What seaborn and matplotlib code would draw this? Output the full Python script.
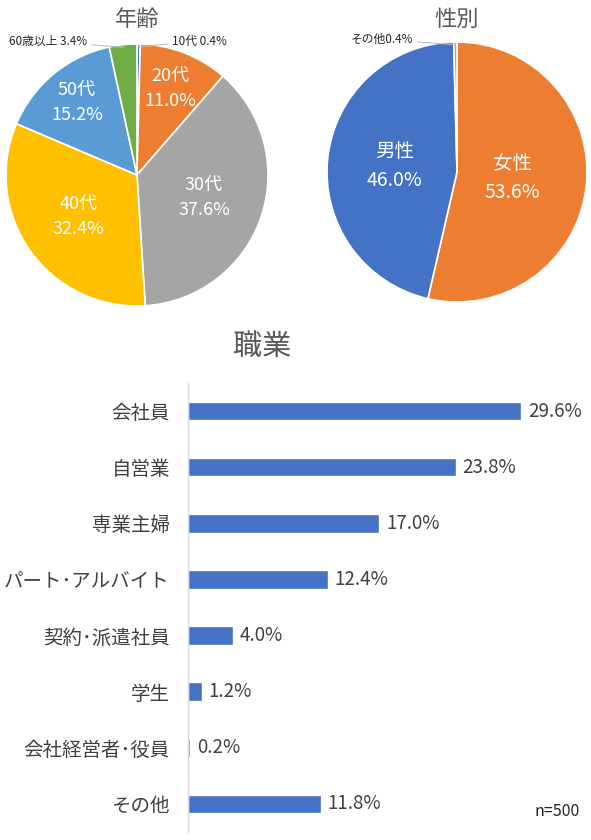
import numpy as np
import pandas as pd
import matplotlib
matplotlib.use("Agg")
import matplotlib.pyplot as plt
import seaborn as sns

# ---- data ----
age_labels = ["10代", "20代", "30代", "40代", "50代", "60歳以上"]
age_values = [0.4, 11.0, 37.6, 32.4, 15.2, 3.4]
age_colors = ["#4472C4", "#ED7D31", "#A5A5A5", "#FFC000", "#5B9BD5", "#70AD47"]

gender_labels = ["女性", "男性", "その他"]
gender_values = [53.6, 46.0, 0.4]
gender_colors = ["#ED7D31", "#4472C4", "#A5A5A5"]

job_labels = ["会社員", "自営業", "専業主婦", "パート･アルバイト", "契約･派遣社員",
              "学生", "会社経営者･役員", "その他"]
job_values = [29.6, 23.8, 17.0, 12.4, 4.0, 1.2, 0.2, 11.8]

sns.set_theme(style="white")
plt.rcParams['font.family'] = ['Noto Sans CJK JP', 'DejaVu Sans']

W, H = 591, 840
fig = plt.figure(figsize=(W / 100, H / 100), dpi=100)
fig.patch.set_facecolor("white")

TITLE_C = "#595959"
TEXT_C = "#404040"


def px_axes(cx, cy, r):
    return fig.add_axes([(cx - r) / W, (H - cy - r) / H, 2 * r / W, 2 * r / H])


def draw_pie(ax, values, colors):
    wedges, _ = ax.pie(values, colors=colors, startangle=90, counterclock=False,
                       radius=1.0, wedgeprops=dict(edgecolor="white", linewidth=1.2))
    ax.set_xlim(-1, 1)
    ax.set_ylim(-1, 1)
    ax.set_aspect("auto")
    ax.axis("off")
    return wedges


def inner_label(ax, wedge, text, rfac, size):
    ang = np.deg2rad((wedge.theta1 + wedge.theta2) / 2)
    ax.text(rfac * np.cos(ang), rfac * np.sin(ang), text, ha="center", va="center",
            color="white", fontsize=size, linespacing=1.5)


def outer_label(ax, wedge, text, tx, ha):
    ang = np.deg2rad((wedge.theta1 + wedge.theta2) / 2)
    ex, ey = 0.98 * np.cos(ang), 0.98 * np.sin(ang)
    ax.annotate(text, xy=(ex, ey), xytext=(tx, 1.02), ha=ha, va="center",
                fontsize=8.5, color="#262626",
                arrowprops=dict(arrowstyle="-", color="#BFBFBF", lw=0.8,
                                shrinkA=1, shrinkB=0),
                annotation_clip=False)


# ---- age pie ----
ax1 = px_axes(137, 175, 131)
w1 = draw_pie(ax1, age_values, age_colors)
age_r = [None, 0.71, 0.54, 0.55, 0.72, None]
for w, lab, v, r in zip(w1, age_labels, age_values, age_r):
    if r is not None:
        inner_label(ax1, w, f"{lab}\n{v:.1f}%", r, 13)
fig.text(137 / W, 1 - 19 / H, "年齢", ha="center", va="center", fontsize=16, color=TITLE_C)
outer_label(ax1, w1[0], f"{age_labels[0]} {age_values[0]}%", 0.27, "left")
outer_label(ax1, w1[5], f"{age_labels[5]} {age_values[5]}%", -0.38, "right")

# ---- gender pie ----
ax2 = px_axes(457, 172, 130)
w2 = draw_pie(ax2, gender_values, gender_colors)
g_r = [0.43, 0.48, None]
for w, lab, v, r in zip(w2, gender_labels, gender_values, g_r):
    if r is not None:
        inner_label(ax2, w, f"{lab}\n{v:.1f}%", r, 14)
fig.text(457 / W, 1 - 19 / H, "性別", ha="center", va="center", fontsize=16, color=TITLE_C)
outer_label(ax2, w2[2], f"{gender_labels[2]}{gender_values[2]}%", -0.34, "right")

# ---- job bar chart ----
df = pd.DataFrame({"job": job_labels, "pct": job_values})
x0, x1 = 188, 578
y_top, y_bot = 383, 832
ax3 = fig.add_axes([x0 / W, (H - y_bot) / H, (x1 - x0) / W, (y_bot - y_top) / H])
sns.barplot(data=df, x="pct", y="job", orient="h", color="#4472C4", saturation=1,
            width=0.33, ax=ax3)
ax3.set_xlim(0, (x1 - x0) / 11.25)
ax3.set_ylim(len(job_labels) - 0.5, -0.5)
ax3.set_xlabel("")
ax3.set_ylabel("")
ax3.set_xticks([])
for s in ["top", "right", "bottom"]:
    ax3.spines[s].set_visible(False)
ax3.spines["left"].set_color("#D9D9D9")
ax3.spines["left"].set_linewidth(1.0)
ax3.tick_params(axis="y", length=0, pad=13, labelsize=14, labelcolor=TEXT_C)
for c in ax3.containers:
    ax3.bar_label(c, labels=[f"{v:.1f}%" for v in job_values], padding=5,
                  fontsize=13.5, color=TEXT_C)

fig.text(262 / W, 1 - 347 / H, "職業", ha="center", va="center", fontsize=21, color=TITLE_C)
fig.text(580 / W, 1 - 812 / H, "n=500", ha="right", va="center", fontsize=11.5, color="#262626")

fig.savefig("out.png", dpi=100, facecolor="white")
